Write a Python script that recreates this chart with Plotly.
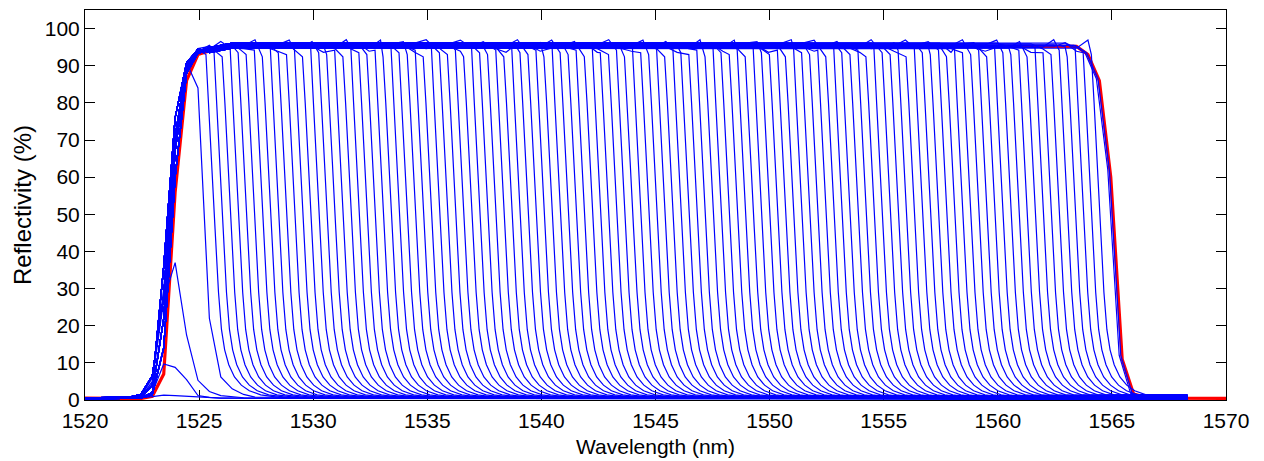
import numpy as np
import plotly.graph_objects as go

# Reflection spectra recorded scan by scan while a broadband grating is written.
# Every scan shares the short-wavelength edge; its long-wavelength edge moves
# to the right as the written length grows. The red trace is the final spectrum.

# Shared rising edge (nm) and the four shapes it takes across scans (%)
RISE_WL = [1520.0, 1521.45, 1521.95, 1522.45, 1522.95, 1523.45, 1523.95, 1524.45, 1524.95]
RISE_R = [
    [0.5, 0.5, 0.6, 0.8, 4.0, 36.0, 76.0, 90.8, 94.3],
    [0.4, 0.4, 0.5, 0.6, 2.0, 22.0, 67.0, 89.0, 93.8],
    [0.6, 0.6, 0.8, 1.5, 6.5, 28.0, 71.0, 89.8, 94.6],
    [0.3, 0.3, 0.4, 0.5, 1.5, 14.0, 60.0, 88.0, 93.4],
]

# First scans, before the reflection band has formed
EARLY_WL = [1520.0, 1521.95, 1522.45, 1522.95, 1523.45, 1523.95, 1524.45, 1524.95,
            1525.45, 1525.95, 1526.45, 1526.95, 1527.45, 1568.3]
EARLY_R = [
    [0.5, 0.5, 0.6, 0.9, 1.3, 1.2, 1.0, 0.8, 0.6, 0.5, 0.5, 0.45, 0.4, 0.3],
    [0.4, 0.5, 0.6, 2.0, 9.7, 8.8, 5.5, 1.2, 0.7, 0.5, 0.5, 0.4, 0.4, 0.3],
    [0.4, 0.5, 0.7, 5.0, 27.0, 37.0, 17.5, 5.3, 2.3, 1.2, 0.8, 0.6, 0.5, 0.3],
    [0.5, 0.6, 0.8, 6.0, 30.0, 70.0, 90.8, 84.0, 22.0, 6.2, 3.0, 1.5, 0.8, 0.3],
]

# Shoulder position (nm) of the long-wavelength edge for each later scan
CUTOFFS = [
    1525.30, 1525.65, 1526.01, 1526.36, 1526.71, 1527.06, 1527.42, 1527.77, 1528.12, 1528.47,
    1528.83, 1529.18, 1529.53, 1529.89, 1530.24, 1530.59, 1530.94, 1531.30, 1531.65, 1532.00,
    1532.35, 1532.71, 1533.06, 1533.41, 1533.76, 1534.12, 1534.47, 1534.82, 1535.18, 1535.53,
    1535.88, 1536.23, 1536.59, 1536.94, 1537.29, 1537.64, 1538.00, 1538.35, 1538.70, 1539.06,
    1539.41, 1539.76, 1540.11, 1540.47, 1540.82, 1541.17, 1541.52, 1541.88, 1542.23, 1542.58,
    1542.94, 1543.29, 1543.64, 1543.99, 1544.35, 1544.70, 1545.05, 1545.40, 1545.76, 1546.11,
    1546.46, 1546.81, 1547.17, 1547.52, 1547.87, 1548.23, 1548.58, 1548.93, 1549.28, 1549.64,
    1549.99, 1550.34, 1550.69, 1551.05, 1551.40, 1551.75, 1552.11, 1552.46, 1552.81, 1553.16,
    1553.52, 1553.87, 1554.22, 1554.57, 1554.93, 1555.28, 1555.63, 1555.98, 1556.34, 1556.69,
    1557.04, 1557.40, 1557.75, 1558.10, 1558.45, 1558.81, 1559.16, 1559.51, 1559.86, 1560.22,
    1560.57, 1560.92, 1561.28, 1561.63, 1561.98, 1562.33, 1562.69, 1563.04, 1563.39, 1563.74,
    1564.10,
]

# Plateau level, last plateau sample, shoulder value and far-tail level of the
# scans; each list is used in turn from scan to scan
LEVELS = [95.3, 95.9, 94.9, 95.6, 95.1, 96.1, 94.7, 95.4]
SPIKES = [96.9, 95.5, 95.2, 96.5, 95.4, 93.6, 94.6, 97.0, 95.1, 96.2, 93.9]
SHOULDERS = [93.0, 94.2, 92.4, 94.8, 93.5]
TAILS = [0.4, 0.9, 0.2, 1.3, 0.6, 1.1, 0.3]
PLATEAU_START_DROP = [1.2, 0.6]

# Long-wavelength edge after the shoulder (nm offset, %)
FALL_OFFSET = [0.12, 0.25, 0.4, 0.55, 0.68, 0.82, 1.0, 1.25, 1.55, 1.9, 2.4, 3.2]
FALL_R = [80.0, 64.0, 46.0, 29.0, 19.0, 13.5, 9.5, 6.2, 4.0, 2.5, 1.4, 0.7]
TAIL_END_WL = 1568.3

# Last scans, whose edge matches the finished grating
FINAL_WL = [1563.45, 1563.95, 1564.45, 1564.95, 1565.45, 1565.95, 1566.45, 1567.0, 1568.3]
FINAL_R = [95.5, 93.5, 86.5, 62.0, 12.0, 1.8, 0.9, 0.6, 0.35]
FINAL_SHIFT = [-0.06, -0.13]

# Finished grating
RED_WL = [1520.0, 1522.45, 1522.95, 1523.45, 1523.95, 1524.45, 1524.95, 1525.45, 1525.95,
          1526.45, 1563.45, 1563.95, 1564.45, 1564.95, 1565.45, 1565.95, 1566.45, 1567.0, 1570.0]
RED_R = [0.5, 0.4, 1.0, 7.0, 56.0, 86.0, 93.0, 94.0, 94.6, 95.0, 95.2, 93.0, 86.0, 60.0,
         11.0, 1.6, 0.8, 0.5, 0.45]

X_TICKS = list(range(1520, 1571, 5))
Y_TICKS = list(range(0, 101, 10))

# sampling grid of the optical spectrum analyser on the plateau
PLATEAU_WL = np.arange(1525.45, 1564.0, 0.5)

BLUE = "#0000FF"
RED = "#FF0000"
FONT = "Liberation Sans, Arial, Helvetica, sans-serif"

fig = go.Figure()

fig.add_trace(go.Scatter(x=RED_WL, y=RED_R, mode="lines",
                         line=dict(color=RED, width=3.2), hoverinfo="skip"))

blue_line = dict(color=BLUE, width=1.2)

for r in EARLY_R:
    fig.add_trace(go.Scatter(x=EARLY_WL, y=r, mode="lines", line=blue_line, hoverinfo="skip"))


def plateau(level, spike, stop):
    wl = [w for w in PLATEAU_WL if w < stop]
    vals = [level] * len(wl)
    for i, d in enumerate(PLATEAU_START_DROP):
        if i < len(vals):
            vals[i] = level - d
    if vals and spike is not None:
        vals[-1] = spike
    return wl, vals


for k, c in enumerate(CUTOFFS):
    rise = RISE_R[k % len(RISE_R)]
    pw, pv = plateau(LEVELS[k % len(LEVELS)], SPIKES[k % len(SPIKES)], c - 0.08)
    fw = [c] + [c + o for o in FALL_OFFSET]
    fv = [SHOULDERS[k % len(SHOULDERS)]] + FALL_R
    x = RISE_WL + pw + fw + [TAIL_END_WL]
    y = rise + pv + fv + [TAILS[k % len(TAILS)]]
    fig.add_trace(go.Scatter(x=x, y=y, mode="lines", line=blue_line, hoverinfo="skip"))

for j, s in enumerate(FINAL_SHIFT):
    rise = RISE_R[j % len(RISE_R)]
    pw, pv = plateau(LEVELS[0], None, FINAL_WL[0] + s - 0.08)
    fw = [w + s for w in FINAL_WL]
    fig.add_trace(go.Scatter(x=RISE_WL + pw + fw, y=rise + pv + FINAL_R, mode="lines",
                             line=blue_line, hoverinfo="skip"))

axis_common = dict(
    ticks="inside", ticklen=10, tickwidth=1, tickcolor="black",
    showline=True, linecolor="black", linewidth=1, mirror="ticks",
    showgrid=False, zeroline=False,
    tickfont=dict(family=FONT, size=21, color="black"),
)

fig.update_layout(
    width=1264, height=461,
    margin=dict(l=85, r=38, t=10, b=61),
    paper_bgcolor="white", plot_bgcolor="white",
    showlegend=False,
    xaxis=dict(range=[1520, 1570], tickvals=X_TICKS, ticklabelstandoff=2,
               layer="below traces", **axis_common),
    yaxis=dict(range=[0, 105], tickvals=Y_TICKS,
               title=dict(text="Reflectivity (%)", standoff=6,
                          font=dict(family=FONT, size=24, color="black")),
               **axis_common),
    annotations=[dict(text="Wavelength (nm)", xref="paper", yref="paper",
                      x=0.5, y=0, xanchor="center", yanchor="middle", yshift=-46,
                      showarrow=False, font=dict(family=FONT, size=21, color="black"))],
)

fig.write_html("out.html")
